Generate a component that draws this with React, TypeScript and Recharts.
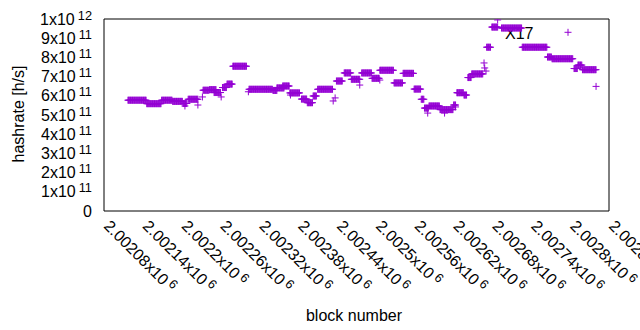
import { ScatterChart, Scatter, XAxis, YAxis, Legend } from 'recharts'

// runs of blocks sharing one hashrate value (x1e11 h/s)
const runStart = [
  2002117, 2002146, 2002169, 2002186, 2002202, 2002210, 2002233, 2002243, 2002250, 2002263,
  2002270, 2002279, 2002304, 2002341, 2002347, 2002356, 2002367, 2002385, 2002394, 2002403,
  2002410, 2002439, 2002451, 2002462, 2002478, 2002494, 2002506, 2002528, 2002542, 2002559,
  2002570, 2002575, 2002582, 2002599, 2002620, 2002625, 2002636, 2002642, 2002648, 2002671,
  2002679, 2002694, 2002726, 2002765, 2002772, 2002806, 2002812, 2002819,
]
const runEnd = [
  2002145, 2002168, 2002185, 2002201, 2002208, 2002225, 2002242, 2002253, 2002260, 2002269,
  2002278, 2002300, 2002340, 2002347, 2002358, 2002366, 2002382, 2002393, 2002402, 2002408,
  2002433, 2002448, 2002461, 2002475, 2002493, 2002505, 2002527, 2002541, 2002558, 2002569,
  2002574, 2002581, 2002598, 2002619, 2002623, 2002635, 2002640, 2002647, 2002665, 2002677,
  2002688, 2002725, 2002764, 2002771, 2002804, 2002811, 2002818, 2002840,
]
const runRate = [
  5.77, 5.59, 5.77, 5.71, 5.6, 5.82, 6.29, 6.32, 6.17, 6.43,
  6.61, 7.54, 6.34, 6.28, 6.41, 6.51, 6.15, 5.83, 5.64, 5.99,
  6.34, 6.77, 7.19, 6.86, 7.19, 6.91, 7.33, 6.67, 7.17, 6.35,
  5.82, 5.36, 5.47, 5.28, 5.52, 6.16, 6.04, 6.95, 7.14, 8.53,
  9.58, 9.53, 8.53, 8.02, 7.93, 7.42, 7.6, 7.36,
]

// isolated blocks
const singleBlock = [
  2002205, 2002225, 2002232, 2002261, 2002303, 2002368, 2002434, 2002437, 2002475, 2002506,
  2002580, 2002606, 2002623, 2002667, 2002668, 2002670, 2002688, 2002840,
]
const singleRate = [
  5.47, 5.52, 5.94, 5.94, 6.21, 6.04, 5.73, 5.89, 6.56, 6.82,
  5.1, 5.1, 5.42, 7.71, 7.45, 7.29, 9.95, 6.49,
]

const xTicks = [
  2002080, 2002140, 2002200, 2002260, 2002320, 2002380, 2002440,
  2002500, 2002560, 2002620, 2002680, 2002740, 2002800, 2002860,
]
const xTickLabels = [
  '2.00208', '2.00214', '2.0022', '2.00226', '2.00232', '2.00238', '2.00244',
  '2.0025', '2.00256', '2.00262', '2.00268', '2.00274', '2.0028', '2.00286',
]
const yTicks = [0, 1e11, 2e11, 3e11, 4e11, 5e11, 6e11, 7e11, 8e11, 9e11, 1e12]
const yTickLabels = ['0', '1', '2', '3', '4', '5', '6', '7', '8', '9', '1']
const yTickExps = ['', '11', '11', '11', '11', '11', '11', '11', '11', '11', '12']

const FONT = '"Liberation Sans", Arial, sans-serif'
const PURPLE = '#9400d3'

const points: { block: number; rate: number }[] = []
runStart.forEach((s, i) => {
  for (let b = s; b <= runEnd[i]; b++) points.push({ block: b, rate: runRate[i] * 1e11 })
})
singleBlock.forEach((b, i) => points.push({ block: b, rate: singleRate[i] * 1e11 }))

const Plus = ({ cx, cy }: any) => (
  <path
    d={`M${cx - 3.5},${cy}h7M${cx},${cy - 3.5}v7`}
    stroke={PURPLE}
    strokeWidth={1}
    fill="none"
  />
)

const XTick = ({ x, y, payload }: any) => {
  const i = xTicks.indexOf(payload.value)
  return (
    <g transform={`translate(${x - 1},${y + 16}) rotate(45)`}>
      <text x={0} y={0} fontFamily={FONT} fontSize={16} fill="#000">
        {xTickLabels[i]}x10
        <tspan dx={3} dy={-5} fontSize={12.8}>6</tspan>
      </text>
    </g>
  )
}

const YTick = ({ x, y, payload }: any) => {
  const i = yTicks.indexOf(payload.value)
  return (
    <text x={x - 12} y={y + 5.5} textAnchor="end" fontFamily={FONT} fontSize={16} fill="#000">
      {yTickLabels[i]}
      {yTickExps[i] && 'x10'}
      {yTickExps[i] && (
        <tspan dx={3} dy={-5} fontSize={12.8}>{yTickExps[i]}</tspan>
      )}
    </text>
  )
}

const XTitle = ({ viewBox }: any) => {
  const vb = viewBox || { x: 104, y: 211, width: 505, height: 119 }
  return (
    <text
      x={vb.x + vb.width / 2 - 2.5}
      y={vb.y + vb.height - 9}
      textAnchor="middle"
      fontFamily={FONT}
      fontSize={16}
      fill="#000"
    >
      block number
    </text>
  )
}

const YTitle = ({ viewBox }: any) => {
  const vb = viewBox || { x: 0, y: 19, width: 104, height: 192 }
  const cx = vb.x + 24
  const cy = vb.y + vb.height / 2 - 1
  return (
    <text
      x={cx}
      y={cy}
      transform={`rotate(-90 ${cx} ${cy})`}
      textAnchor="middle"
      fontFamily={FONT}
      fontSize={16}
      fill="#000"
    >
      hashrate [h/s]
    </text>
  )
}

const KeyBox = () => (
  <svg width={110} height={20} style={{ display: 'block', overflow: 'visible' }}>
    <text x={0} y={15.5} fontFamily={FONT} fontSize={16} fill="#000">
      X17
    </text>
    <Plus cx={63} cy={9.3} />
  </svg>
)

const frame = { stroke: '#000', strokeWidth: 1 }

export default function App() {
  const domainX: [number, number] = [xTicks[0], xTicks[xTicks.length - 1]]
  const domainY: [number, number] = [0, 1e12]
  return (
    <div style={{ position: 'absolute', left: 0, top: 0 }}>
      <ScatterChart width={640} height={330} margin={{ top: 19, right: 31, left: 0, bottom: 0 }}>
        <XAxis
          xAxisId="b"
          type="number"
          dataKey="block"
          domain={domainX}
          ticks={xTicks}
          interval={0}
          height={119}
          axisLine={false}
          tickLine={false}
          tickSize={0}
          tickMargin={0}
          tick={<XTick />}
          label={<XTitle />}
          allowDataOverflow
        />
        <XAxis
          xAxisId="bm"
          type="number"
          domain={domainX}
          ticks={xTicks}
          interval={0}
          height={1}
          mirror
          stroke="#000"
          axisLine={frame}
          tickLine={frame}
          tick={false}
          tickSize={4}
          allowDataOverflow
        />
        <XAxis
          xAxisId="t"
          orientation="top"
          type="number"
          domain={domainX}
          ticks={xTicks}
          interval={0}
          height={1}
          mirror
          stroke="#000"
          axisLine={frame}
          tickLine={frame}
          tick={false}
          tickSize={4}
          allowDataOverflow
        />
        <YAxis
          yAxisId="l"
          type="number"
          dataKey="rate"
          domain={domainY}
          ticks={yTicks}
          interval={0}
          width={104}
          axisLine={false}
          tickLine={false}
          tickSize={0}
          tickMargin={0}
          tick={<YTick />}
          label={<YTitle />}
          allowDataOverflow
        />
        <YAxis
          yAxisId="lm"
          type="number"
          domain={domainY}
          ticks={yTicks}
          interval={0}
          width={1}
          mirror
          stroke="#000"
          axisLine={frame}
          tickLine={frame}
          tick={false}
          tickSize={4}
          allowDataOverflow
        />
        <YAxis
          yAxisId="r"
          orientation="right"
          type="number"
          domain={domainY}
          ticks={yTicks}
          interval={0}
          width={1}
          mirror
          stroke="#000"
          axisLine={frame}
          tickLine={frame}
          tick={false}
          tickSize={4}
          allowDataOverflow
        />
        <Legend
          layout="horizontal"
          verticalAlign="middle"
          align="center"
          wrapperStyle={{ left: 505, top: 23, width: 110, height: 20, zIndex: -1 }}
          content={() => <KeyBox />}
        />
        <Scatter
          name="X17"
          data={points}
          xAxisId="b"
          yAxisId="l"
          fill={PURPLE}
          shape={<Plus />}
          isAnimationActive={false}
        />
      </ScatterChart>
    </div>
  )
}
